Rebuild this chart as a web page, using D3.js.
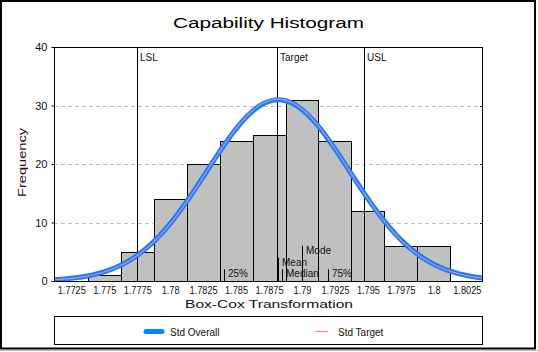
<!DOCTYPE html>
<html><head><meta charset="utf-8">
<script src="https://cdn.jsdelivr.net/npm/d3@7"></script>
<style>
html,body{margin:0;padding:0;background:#fff;}
svg{display:block;font-family:"Liberation Sans",Arial,sans-serif;}
</style></head>
<body><svg id="c" width="538" height="352"></svg>
<script>
// ---- data ----
const binCenters = [1.775, 1.7775, 1.78, 1.7825, 1.785, 1.7875, 1.79, 1.7925, 1.795, 1.7975, 1.8];
const binCounts  = [1, 5, 14, 20, 24, 25, 31, 24, 12, 6, 6];
const binWidth = 0.0025;
const xTicks = [1.7725, 1.775, 1.7775, 1.78, 1.7825, 1.785, 1.7875, 1.79, 1.7925, 1.795, 1.7975, 1.8, 1.8025];
const xTickLabels = ["1.7725","1.775","1.7775","1.78","1.7825","1.785","1.7875","1.79","1.7925","1.795","1.7975","1.8","1.8025"];
const yTicks = [0, 10, 20, 30, 40];
const xDomain = [1.77119, 1.80373];
const specNames = ["LSL", "Target", "USL"];
const specValues = [1.7775, 1.7881, 1.7947];
const statNames = ["25%", "Mean", "Median", "Mode", "75%"];
const statValues = [1.7841, 1.7882, 1.7885, 1.7900, 1.79195];
const statHeights = [2, 4, 2, 6, 2];
const curveMean = 1.7882;
const curveSdOverall = 0.00541;
const curveSdTarget = 0.00539;
const sampleSize = 168;
const legendNames = ["Std Overall", "Std Target"];
const legendColors = ["#0A84FF", "#F080B8"];

// ---- layout ----
const svg = d3.select("#c");
const L = 54, R = 483, T = 47, B = 281;
const x = d3.scaleLinear().domain(xDomain).range([L, R]);
const y = d3.scaleLinear().domain([0, 40]).range([B, T]);

// outer frame
svg.append("rect").attr("x",1).attr("y",1).attr("width",534).attr("height",347.5)
  .attr("fill","#fff").attr("stroke","#000").attr("stroke-width",2);
svg.append("line").attr("x1",0).attr("x2",538).attr("y1",350.5).attr("y2",350.5).attr("stroke","#bbb");

// title
svg.append("text").attr("x",268.5).attr("y",27.5).attr("text-anchor","middle")
  .attr("font-size",15.5).attr("textLength",191).attr("lengthAdjust","spacingAndGlyphs")
  .text("Capability Histogram");

// grid
svg.append("g").selectAll("line").data(yTicks.filter(d=>d>0 && d<40)).join("line")
  .attr("x1",L).attr("x2",R).attr("y1",d=>Math.round(y(d))+0.5).attr("y2",d=>Math.round(y(d))+0.5)
  .attr("stroke","#bdbdbd").attr("stroke-dasharray","4,3");
// right inner ticks
svg.append("g").selectAll("line").data(yTicks).join("line")
  .attr("x1",R-3).attr("x2",R).attr("y1",d=>Math.round(y(d))+0.5).attr("y2",d=>Math.round(y(d))+0.5)
  .attr("stroke","#000");

// bars
svg.append("g").selectAll("rect").data(binCenters).join("rect")
  .attr("x",(d)=>Math.round(x(d-binWidth/2))+0.5)
  .attr("width",(d)=>Math.round(x(d+binWidth/2))-Math.round(x(d-binWidth/2)))
  .attr("y",(d,i)=>Math.round(y(binCounts[i]))+0.5)
  .attr("height",(d,i)=>Math.round(y(0))-Math.round(y(binCounts[i])))
  .attr("fill","#c0c0c0").attr("stroke","#000").attr("stroke-width",1);

// spec lines
const spec = svg.append("g");
spec.selectAll("line").data(specValues).join("line")
  .attr("x1",d=>Math.round(x(d))+0.5).attr("x2",d=>Math.round(x(d))+0.5)
  .attr("y1",T).attr("y2",B).attr("stroke","#000");
spec.selectAll("text").data(specNames).join("text")
  .attr("x",(d,i)=>Math.round(x(specValues[i]))+3).attr("y",61)
  .attr("font-size",10).attr("fill","#111").text(d=>d);

// stat markers
const st = svg.append("g");
st.selectAll("line").data(statValues).join("line")
  .attr("x1",d=>Math.round(x(d))+0.5).attr("x2",d=>Math.round(x(d))+0.5)
  .attr("y1",(d,i)=>y(statHeights[i])).attr("y2",B).attr("stroke","#000");
st.selectAll("text").data(statNames).join("text")
  .attr("x",(d,i)=>Math.round(x(statValues[i]))+4).attr("y",(d,i)=>y(statHeights[i])+8)
  .attr("font-size",10).attr("fill","#111").text(d=>d);

// curves
function normalPts(mu, sd){
  const n = 200, pts = [];
  for(let k=0;k<=n;k++){
    const v = xDomain[0] + (xDomain[1]-xDomain[0])*k/n;
    const f = sampleSize*binWidth/(sd*Math.sqrt(2*Math.PI))*Math.exp(-0.5*((v-mu)/sd)**2);
    pts.push([v,f]);
  }
  return pts;
}
const line = d3.line().x(d=>x(d[0])).y(d=>y(d[1])).curve(d3.curveLinear);
svg.append("path").attr("d",line(normalPts(curveMean,curveSdOverall)))
  .attr("fill","none").attr("stroke",legendColors[0]).attr("stroke-width",5);
svg.append("path").attr("d",line(normalPts(curveMean,curveSdTarget)))
  .attr("fill","none").attr("stroke",legendColors[1]).attr("stroke-width",1.2);

// plot frame
svg.append("rect").attr("x",L+0.5).attr("y",T+0.5).attr("width",R-L-1).attr("height",B-T)
  .attr("fill","none").attr("stroke","#000");

// axes
const yAxis = svg.append("g").attr("transform",`translate(${L+0.5},0)`)
  .call(d3.axisLeft(y).tickValues(yTicks).tickSize(3).tickFormat(d3.format("d")));
yAxis.select(".domain").remove();
yAxis.selectAll("text").attr("font-size",11).attr("font-family","Liberation Sans, Arial, sans-serif").attr("fill","#111").attr("dx","-1");
yAxis.selectAll("line").attr("stroke","#000");

const xAxis = svg.append("g").attr("transform",`translate(0,${B})`)
  .call(d3.axisBottom(x).tickValues(xTicks).tickSize(0).tickPadding(5.5)
    .tickFormat((d,i)=>xTickLabels[i]));
xAxis.select(".domain").remove();
xAxis.selectAll("text").attr("font-size",10).attr("font-family","Liberation Sans, Arial, sans-serif").attr("fill","#111")
  .each(function(){ const w=this.getComputedTextLength(); d3.select(this).attr("textLength",w*0.92).attr("lengthAdjust","spacingAndGlyphs"); });

// axis titles
svg.append("text").attr("x",269).attr("y",307.5).attr("text-anchor","middle")
  .attr("font-size",11).attr("textLength",168).attr("lengthAdjust","spacingAndGlyphs").attr("fill","#111")
  .text("Box-Cox Transformation");
svg.append("text").attr("transform","translate(26,162.5) rotate(-90)").attr("text-anchor","middle")
  .attr("font-size",11).attr("textLength",69).attr("lengthAdjust","spacingAndGlyphs").attr("fill","#2a0a10")
  .text("Frequency");

// legend
svg.append("rect").attr("x",L+0.5).attr("y",316.5).attr("width",R-L-1).attr("height",28)
  .attr("fill","#fff").attr("stroke","#000");
const lg = [{x1:146,x2:162,w:5,cap:"round",tx:170},{x1:315,x2:328,w:1.2,cap:"butt",tx:338}];
lg.forEach((o,i)=>{
  svg.append("line").attr("x1",o.x1).attr("x2",o.x2).attr("y1",331.5).attr("y2",331.5)
    .attr("stroke",legendColors[i]).attr("stroke-width",o.w).attr("stroke-linecap",o.cap);
  svg.append("text").attr("x",o.tx).attr("y",335.5).attr("font-size",10).attr("fill","#111").text(legendNames[i]);
});
</script></body></html>
